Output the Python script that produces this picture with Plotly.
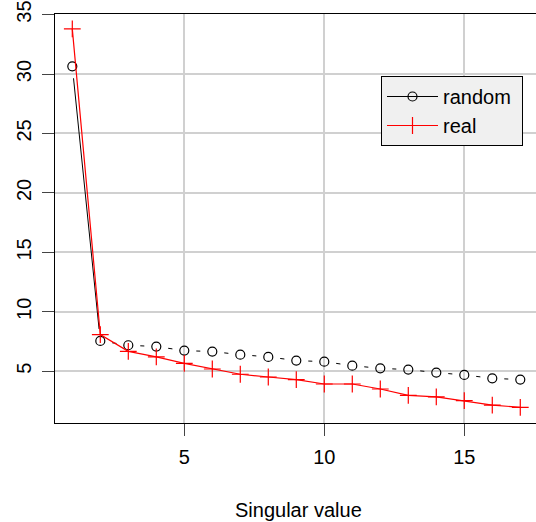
import plotly.graph_objects as go
import numpy as np

x_vals = list(range(1, 18))
random_vals = [30.65, 7.55, 7.19, 7.08, 6.74, 6.66, 6.40, 6.21, 5.90, 5.81,
               5.47, 5.25, 5.14, 4.89, 4.69, 4.41, 4.30]
real_vals = [33.8, 8.09, 6.68, 6.21, 5.67, 5.19, 4.75, 4.52, 4.30, 3.93,
             3.93, 3.51, 2.98, 2.84, 2.53, 2.16, 1.97]
x_ticks = [5, 10, 15]
y_ticks = [5, 10, 15, 20, 25, 30, 35]

# figure slightly wider than the window so the right border falls outside (as in the reference)
W, H = 541, 522
ML, MR, MT, MB = 55, 0, 14, 522 - 423
xr = [0.382, 17.74]
yr = [0.65, 35.05]
pw, ph = W - ML - MR, H - MT - MB
sx = pw / (xr[1] - xr[0])
sy = ph / (yr[1] - yr[0])
GAP = 12.0  # pixel gap around points, like R type="b"

# build type="b" style segments for random series
seg_x, seg_y = [], []
for i in range(len(x_vals) - 1):
    x0, y0 = x_vals[i], random_vals[i]
    x1, y1 = x_vals[i + 1], random_vals[i + 1]
    dxp, dyp = (x1 - x0) * sx, (y1 - y0) * sy
    L = np.hypot(dxp, dyp)
    if L > 2 * GAP:
        f = GAP / L
        seg_x += [x0 + (x1 - x0) * f, x1 - (x1 - x0) * f, None]
        seg_y += [y0 + (y1 - y0) * f, y1 - (y1 - y0) * f, None]

fig = go.Figure()
fig.add_trace(go.Scatter(x=seg_x, y=seg_y, mode="lines",
                         line=dict(color="black", width=1), showlegend=False,
                         hoverinfo="skip"))
fig.add_trace(go.Scatter(x=x_vals, y=random_vals, mode="markers",
                         marker=dict(symbol="circle-open", size=9, color="black",
                                     line=dict(width=1.2, color="black")),
                         showlegend=False))
fig.add_trace(go.Scatter(x=x_vals, y=real_vals, mode="lines+markers",
                         line=dict(color="#ff0000", width=1.2),
                         marker=dict(symbol="cross-thin-open", size=12, color="#ff0000",
                                     line=dict(width=1.2, color="#ff0000")),
                         showlegend=False))
# legend entries
fig.add_trace(go.Scatter(x=[None], y=[None], mode="lines+markers",
                         name="random\u00a0",
                         line=dict(color="black", width=1),
                         marker=dict(symbol="circle-open", size=9, color="black",
                                     line=dict(width=1.2, color="black"))))
fig.add_trace(go.Scatter(x=[None], y=[None], mode="lines+markers", name="real",
                         line=dict(color="#ff0000", width=1.2),
                         marker=dict(symbol="cross-thin-open", size=12, color="#ff0000",
                                     line=dict(width=1.2, color="#ff0000"))))

font_family = "Liberation Sans, Arial, sans-serif"
FS = 20
fig.update_layout(
    width=W, height=H,
    margin=dict(l=ML, r=MR, t=MT, b=MB, autoexpand=False),
    paper_bgcolor="white", plot_bgcolor="white",
    font=dict(family=font_family, size=FS, color="black"),
    showlegend=True,
    legend=dict(x=(381 - ML) / pw, y=(H - MB - 76) / ph,
                xanchor="left", yanchor="top",
                bgcolor="#f0f0f0", bordercolor="black", borderwidth=1,
                font=dict(size=FS, family=font_family), tracegroupgap=0,
                itemwidth=51),
    xaxis=dict(range=xr, tickvals=x_ticks, showgrid=True, gridcolor="#d0d0d0",
               gridwidth=1.5, zeroline=False, showline=True, linecolor="black",
               linewidth=1, mirror=True, ticks="outside", ticklen=12,
               tickcolor="#444", tickfont=dict(size=FS), automargin=False,
               ticklabelstandoff=4),
    yaxis=dict(range=yr, tickvals=y_ticks, showgrid=True, gridcolor="#d0d0d0",
               gridwidth=1.5, zeroline=False, showline=True, linecolor="black",
               linewidth=1, ticks="outside", ticklen=12, tickcolor="#444",
               tickangle=-90, tickfont=dict(size=FS), automargin=False,
               ticklabelstandoff=3, ticklabeloverflow="allow"),
    annotations=[dict(text="Singular value", xref="paper", yref="paper", x=0.5, y=0,
                      xanchor="center", yanchor="middle", yshift=-(510 - 423),
                      showarrow=False, font=dict(size=FS))],
)
fig.write_html("out.html", config={"displayModeBar": False},
               post_script="document.body.style.margin='0px';document.body.style.overflow='hidden';")
